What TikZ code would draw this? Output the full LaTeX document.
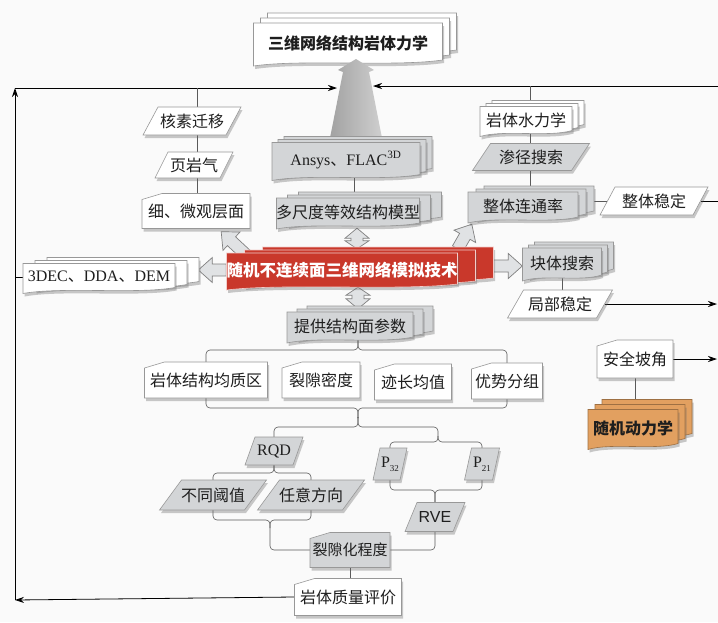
\documentclass[tikz,border=0pt]{standalone}
\usepackage{fontspec}
\setmainfont{Noto Sans CJK SC}
\newfontfamily\tms{Liberation Serif}
\newfontfamily\ars{Liberation Sans}
\usetikzlibrary{calc,backgrounds,shadows,arrows.meta}
\definecolor{bgc}{HTML}{FAFAFA}
\definecolor{grayfill}{HTML}{D3D5D7}
\definecolor{edgec}{HTML}{989898}
\definecolor{redfill}{HTML}{C9382B}
\definecolor{orfill}{HTML}{E2A060}
\definecolor{linec}{HTML}{5A5A5A}
\definecolor{arrfill}{HTML}{E0E2E4}
\definecolor{txtc}{HTML}{1E1E1E}
\definecolor{trapL}{HTML}{A2A2A2}
\definecolor{trapR}{HTML}{CFCFCF}
\newcommand\fs{\fontsize{16pt}{17pt}\selectfont}
\tikzset{
 shd/.style={drop shadow={shadow xshift=1.5pt,shadow yshift=-3pt,opacity=.35,fill=black!60}},
 sgray/.style={fill=grayfill,draw=edgec,line width=.6pt},
 swhite/.style={fill=white,draw=edgec,line width=.6pt},
 sred/.style={fill=redfill,draw=white!75!redfill,line width=.6pt},
 sorange/.style={fill=orfill,draw=orfill!70!black,line width=.6pt},
 txt/.style={inner sep=0pt,draw=none,font=\fs,align=center,text=txtc},
 conn/.style={draw=linec,line width=.6pt},
 brace/.style={conn,rounded corners=4pt},
 flow/.style={draw=black,line width=.8pt,-{Stealth[length=9pt,width=6pt,inset=3pt]}},
 plainflow/.style={draw=black,line width=.8pt},
 hol/.style={fill=arrfill,draw=gray,line width=.7pt},
}
% multi-document: name, cx, cy, w, h, style, dx, dy(up), text
\newcommand\MDoc[9]{%
 \foreach \k in {2,1}{%
  \path[#6,shd,shift={({#2+#7*\k},{#3-#8*\k})}] ({-#4/2},{-#5/2}) -- ({#4/2},{-#5/2}) -- ({#4/2},{#5/2-3}) .. controls ({#4/4},{#5/2+4}) and ({-#4/4},{#5/2-4}) .. ({-#4/2},{#5/2+3}) -- cycle;}
 \path[#6,shd,shift={(#2,#3)}] ({-#4/2},{-#5/2}) -- ({#4/2},{-#5/2}) -- ({#4/2},{#5/2-3}) .. controls ({#4/4},{#5/2+4}) and ({-#4/4},{#5/2-4}) .. ({-#4/2},{#5/2+3}) -- cycle;
 \node[txt,minimum width=#4pt,minimum height=#5pt] (#1) at (#2,#3) {#9};
}
% parallelogram: name, cx, cy, w, h, style, slant, text
\newcommand\PBox[8]{%
 \path[#6,shd,shift={(#2,#3)}] ({-#4/2},{#5/2}) -- ({#4/2-#7},{#5/2}) -- ({#4/2},{-#5/2}) -- ({-#4/2+#7},{-#5/2}) -- cycle;
 \node[txt,minimum width=#4pt-#7pt,minimum height=#5pt] (#1) at (#2,#3) {#8};
}
% card with clipped corner: name, cx, cy, w, h, style, text
\newcommand\CBox[7]{%
 \path[#6,shd,shift={(#2,#3)}] ({-#4/2},{#5/2}) -- ({-#4/2},{-#5/2+6}) -- ({-#4/2+20},{-#5/2}) -- ({#4/2},{-#5/2}) -- ({#4/2},{#5/2}) -- cycle;
 \node[txt,minimum width=#4pt,minimum height=#5pt] (#1) at (#2,#3) {#7};
}
% hollow arrows
\newcommand\HArrow[2]{%
 \coordinate (ha) at (#1); \coordinate (hb) at (#2);
 \coordinate (hh) at ($(hb)!14pt!(ha)$);
 \path[hol] ($(ha)!6pt!90:(hb)$) -- ($(hh)!6pt!90:(hb)$) -- ($(hh)!12.5pt!90:(hb)$) -- (hb) -- ($(hh)!12.5pt!-90:(hb)$) -- ($(hh)!6pt!-90:(hb)$) -- ($(ha)!6pt!-90:(hb)$) -- cycle;
}
\newcommand\DArrow[2]{%
 \coordinate (ha) at (#1); \coordinate (hb) at (#2);
 \coordinate (h1) at ($(ha)!8pt!(hb)$); \coordinate (h2) at ($(hb)!10pt!(ha)$);
 \path[hol] (ha) -- ($(h1)!12pt!90:(hb)$) -- ($(h1)!6pt!90:(hb)$) -- ($(h2)!6pt!90:(hb)$) -- ($(h2)!12pt!90:(hb)$) -- (hb) -- ($(h2)!12pt!-90:(hb)$) -- ($(h2)!6pt!-90:(hb)$) -- ($(h1)!6pt!-90:(hb)$) -- ($(h1)!12pt!-90:(hb)$) -- cycle;
}
\begin{document}
\begin{tikzpicture}[x=1pt,y=-1pt]
\useasboundingbox (0,0) rectangle (718,622);

\MDoc{title}{348}{43}{189}{40}{swhite}{7}{5}{\bfseries 三维网络结构岩体力学}
\shade[left color=trapL,right color=trapR] (330,138) -- (343,72) -- (338,70) -- (356,59) -- (374,70) -- (369,72) -- (382,138) -- cycle;

\MDoc{an}{346}{160}{148}{35}{sgray}{6}{3}{{\tms Ansys}、{\tms FLAC\textsuperscript{3D}}}
\MDoc{dsd}{348}{212}{143}{28}{sgray}{11}{3}{多尺度等效结构模型}
\MDoc{sl}{526}{120}{92}{27}{swhite}{6}{3}{岩体水力学}
\PBox{sj}{531}{157}{117}{27}{sgray}{18}{渗径搜索}
\MDoc{zt}{523}{206}{110}{28}{sgray}{8}{3}{整体连通率}
\PBox{zw}{654}{201}{108}{28}{swhite}{15}{整体稳定}
\PBox{hs}{192}{121}{98}{28}{swhite}{15}{核素迁移}
\PBox{yy}{194}{165}{78}{26}{swhite}{13}{页岩气}
\CBox{xw}{196}{211}{108}{35}{swhite}{细、微观层面}
\MDoc{red}{342}{270}{231}{34}{sred}{18}{3}{\color{white}\bfseries\fontsize{16.5pt}{18pt}\selectfont 随机不连续面三维网络模拟技术}
\MDoc{d3}{99}{277}{152}{27}{swhite}{12}{3}{{\tms 3DEC}、{\tms DDA}、{\tms DEM}}
\MDoc{kt}{562}{263}{79}{30}{sgray}{6}{3}{块体搜索}
\PBox{jb}{560}{304}{105}{28}{swhite}{16}{局部稳定}
\MDoc{tg}{350}{326}{126}{28}{sgray}{10}{3}{提供结构面参数}
\CBox{aq}{635}{359}{76}{38}{swhite}{安全坡角}
\MDoc{dl}{633}{428}{90}{37}{sorange}{7}{5}{\bfseries 随机动力学}
\CBox{q1}{206}{380}{123}{36}{swhite}{岩体结构均质区}
\CBox{q2}{321}{380}{78}{36}{swhite}{裂隙密度}
\CBox{q3}{413}{382}{77}{36}{swhite}{迹长均值}
\CBox{q4}{507}{381}{71}{36}{swhite}{优势分组}
\PBox{rqd}{274}{451}{58}{28}{sgray}{10}{\tms RQD}
\PBox{p32}{390}{464}{34}{32}{sgray}{7}{{\tms P\raisebox{-4pt}{\fontsize{9pt}{9pt}\selectfont 32}}}
\PBox{p21}{482}{464}{35}{32}{sgray}{7}{{\tms P\raisebox{-4pt}{\fontsize{9pt}{9pt}\selectfont 21}}}
\PBox{bt}{213}{495}{107}{30}{sgray}{22}{不同阈值}
\PBox{ry}{311}{495}{107}{30}{sgray}{22}{任意方向}
\PBox{rve}{435}{517}{60}{29}{sgray}{12}{\ars RVE}
\CBox{lx}{350}{550}{80}{35}{sgray}{\fontsize{15pt}{16pt}\selectfont 裂隙化程度}
\CBox{yz}{348}{597}{107}{37}{swhite}{岩体质量评价}

\coordinate (bl) at (15,600);
\coordinate (tl) at (15,88);
\coordinate (tla) at (337,88);
\coordinate (tr) at (718,86);
\coordinate (tra) at (373,86);
\coordinate (vl) at (197,88);
\coordinate (vr) at (530,86);
\coordinate (b1) at (358,350);
\coordinate (b2) at (358,408);
\coordinate (b3) at (358,427);
\coordinate (b4) at (438,442);
\coordinate (b5) at (435,490);
\coordinate (b6) at (274,473);
\coordinate (b7) at (270,520);

\begin{scope}[on background layer]
\fill[bgc] (0,0) rectangle (718,622);
% long flow lines
\draw[flow] (yz.west) -- (bl);
\draw[flow] (bl) -- (tl);
\draw[flow] (tl) -- (tla);
\draw[flow] (tr) -- (tra);
\draw[plainflow] (d3.west -| bl) -- (d3.west);
\draw[plainflow] (zw.east) -- (zw.east -| tr);
\draw[flow] (jb.east) -- ($(jb.east -| tr)+(-1,0)$);
\draw[flow] (aq.east) -- ($(aq.east -| tr)+(-1,0)$);
% vertical chains
\draw[conn] (vl) -- (vl |- xw.north);
\draw[conn] (vr) -- (vr |- zt.north);
\draw[conn] ($(an.south)+(8,0)$) -- ($(dsd.north)+(6,0)$);
\draw[conn] (zw.west) -- (zw.west -| zt.east);
\draw[conn] (kt.south) -- (kt.south |- jb.north);
\draw[conn] (aq.south) -- (aq.south |- dl.north);
\draw[conn] (lx.south) -- (lx.south |- yz.north);
% braces
\draw[brace] (q1.north) |- (b1) -- ++(0,-10);
\draw[brace] (q4.north) |- (b1) -- ++(0,-10);
\draw[brace] (q1.south) |- (b2) -- ++(0,10);
\draw[brace] (q4.south) |- (b2) -- ++(0,10);
\draw[brace] (rqd.north) |- (b3) -- ++(0,-10);
\draw[brace] ($(b3)+(0,-10)$) -- (b3) -| ($(b4)+(0,-6)$);
\draw[brace] (p32.north) |- (b4) -- ++(0,-6);
\draw[brace] (p21.north) |- (b4) -- ++(0,-6);
\draw[brace] (p32.south) |- (b5) -- (rve.north);
\draw[brace] (p21.south) |- (b5) -- (rve.north);
\draw[brace] (bt.north) |- (b6) -- (rqd.south);
\draw[brace] (ry.north) |- (b6) -- (rqd.south);
\draw[brace] (bt.south) |- (b7) |- (lx.west);
\draw[brace] (ry.south) |- (b7) -- ++(0,8);
\draw[brace] (rve.south) |- (lx.east);
% hollow arrows from the main node
\HArrow{red.west}{$(red.west)+(-28,0)$}
\HArrow{$(red.north west)+(22,4)$}{$(xw.south east)+(-29,3)$}
\DArrow{$(red.north)+(15,-4)$}{$(dsd.south)+(9,2)$}
\HArrow{$(red.north east)+(0,-4)$}{$(zt.south west)+(4,4)$}
\HArrow{$(red.east)+(35,-4)$}{$(kt.west)+(0,3)$}
\DArrow{$(red.south)+(16,0)$}{$(tg.north)+(8,-3)$}
\end{scope}
\end{tikzpicture}
\end{document}
